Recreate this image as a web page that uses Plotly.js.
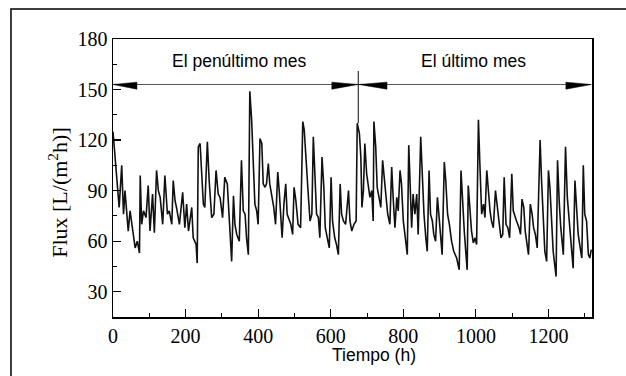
<!DOCTYPE html>
<html>
<head>
<meta charset="utf-8">
<script src="https://cdn.plot.ly/plotly-3.0.1.min.js"></script>
<style>html,body{margin:0;padding:0;background:#fff;}#chart{width:626px;height:376px;}</style>
</head>
<body>
<div id="chart"></div>
<script>
// Time (h) and flux values
const tiempo = [0,6,11,17,24,29,33,42,47,52,61,67,73,75,79,84,91,97,102,109,114,120,125,130,137,143,150,155,162,166,171,175,183,192,198,203,208,217,221,229,232,235,240,244,249,253,260,265,272,278,284,290,295,302,308,315,320,327,
332,336,341,348,354,359,364,368,373,377,382,387,391,396,400,405,410,414,419,423,428,432,437,443,448,454,458,463,466,471,476,480,486,490,495,499,504,510,517,523,527,532,538,543,548,552,557,561,566,570,576,581,585,591,596,601,605,611,616,621,626,630,635,641,649,653,658,
664,670,673,679,683,686,690,694,699,704,708,713,717,719,724,728,734,738,743,748,752,757,763,768,772,777,782,786,791,795,800,805,811,815,819,823,827,832,837,841,848,852,857,862,866,871,875,880,884,889,894,898,903,907,913,917,922,927,933,939,947,954,959,963,968,972,976,979,984,988,993,998,1002,
1007,1011,1016,1021,1025,1030,1034,1039,1043,1048,1054,1059,1064,1069,1074,1078,1083,1088,1093,1099,1103,1108,1112,1119,1123,1127,1132,1136,1141,1145,1150,1155,1159,1164,1169,1177,1181,1186,1190,1195,1200,1204,1209,1213,1221,1225,1230,1234,1241,1247,1252,1256,1262,1268,1273,1278,1282,1289,1292,1296,1300,1305,1310,1314,1318];
const flux = [125,110,96,80,105,76,90,66,78,70,56,60,53,99,70,78,74,93,66,88,65,102,90,86,70,99,76,78,70,96,84,80,70,89,68,82,66,80,62,58,47,116,118,102,82,80,119,96,74,76,102,88,86,74,98,94,72,48,
87,70,64,60,108,78,76,62,52,149,132,106,82,78,70,121,118,94,92,94,106,94,88,80,70,101,90,70,62,82,94,76,72,70,64,92,84,70,68,131,126,106,88,72,76,122,96,76,74,62,110,92,68,60,56,98,72,62,58,52,94,76,72,70,90,72,66,
70,72,130,124,110,80,90,118,100,92,86,90,72,131,116,92,84,80,108,96,88,76,70,104,86,68,86,78,102,94,72,64,52,117,90,68,88,76,88,64,122,96,76,62,54,102,76,72,64,60,86,76,62,52,107,96,76,70,60,54,50,43,102,82,66,54,43,93,76,66,59,62,58,
132,106,76,82,74,102,90,78,72,68,90,80,68,62,64,98,70,68,62,100,78,74,72,68,64,85,80,66,58,52,82,76,68,64,56,120,96,70,54,48,102,92,70,54,39,108,82,68,52,116,86,74,60,44,96,80,64,54,50,105,76,72,52,50,55];

const xTicks = [0,200,400,600,800,1000,1200];
const yTicks = [30,60,90,120,150,180];
const periodos = ["El penúltimo mes", "El último mes"];

const trace = {
  x: tiempo, y: flux, type: 'scatter', mode: 'lines',
  line: {color: '#111', width: 1.6}, hoverinfo: 'skip'
};

const ax = {
  showline: true, mirror: true, linecolor: '#000', linewidth: 1.5,
  showgrid: false, zeroline: false, ticks: 'inside', ticklen: 8, tickwidth: 1.2, tickcolor: '#000',
  tickfont: {family: 'Liberation Serif', size: 20, color: '#000'}
};

const arrowY = 153;
const layout = {
  width: 626, height: 376,
  margin: {l: 113, r: 34, t: 39, b: 59},
  paper_bgcolor: '#fff', plot_bgcolor: '#fff',
  showlegend: false,
  xaxis: Object.assign({}, ax, {
    range: [0, 1320], tickmode: 'array', tickvals: xTicks, ticktext: xTicks.map(String),
    minor: {dtick: 100, tick0: 0, ticks: 'inside', ticklen: 4, tickcolor: '#000', tickwidth: 1}
  }),
  yaxis: Object.assign({}, ax, {
    range: [15, 180], tickmode: 'array', tickvals: yTicks, ticktext: yTicks.map(String),
    minor: {dtick: 15, tick0: 0, ticks: 'inside', ticklen: 4, tickcolor: '#000', tickwidth: 1}
  }),
  shapes: [
    // outer frame
    {type: 'rect', xref: 'paper', yref: 'paper', x0: -0.213, x1: 1.2, y0: -0.3, y1: 1.108,
     line: {color: '#000', width: 1.5}, fillcolor: 'rgba(0,0,0,0)', layer: 'below'},
    // horizontal period line
    {type: 'line', xref: 'x', yref: 'y', x0: 0, x1: 1316, y0: arrowY, y1: arrowY, line: {color: '#555', width: 1}},
    // separator
    {type: 'line', xref: 'x', yref: 'y', x0: 676, x1: 676, y0: 130, y1: 161, line: {color: '#333', width: 1.2}},
    // arrow heads
    {type: 'path', xref: 'x', yref: 'y', path: `M 0,${arrowY} L 66,${arrowY+1.4} L 66,${arrowY-2.8} Z`, fillcolor: '#000', line: {color: '#000', width: 0.5}},
    {type: 'path', xref: 'x', yref: 'y', path: `M 675,${arrowY} L 603,${arrowY+1.4} L 603,${arrowY-2.8} Z`, fillcolor: '#000', line: {color: '#000', width: 0.5}},
    {type: 'path', xref: 'x', yref: 'y', path: `M 677,${arrowY} L 755,${arrowY+1.4} L 755,${arrowY-2.8} Z`, fillcolor: '#000', line: {color: '#000', width: 0.5}},
    {type: 'path', xref: 'x', yref: 'y', path: `M 1318,${arrowY} L 1248,${arrowY+1.4} L 1248,${arrowY-2.8} Z`, fillcolor: '#000', line: {color: '#000', width: 0.5}}
  ],
  annotations: [
    {x: 347, y: 167, xref: 'x', yref: 'y', text: periodos[0], showarrow: false, xanchor: 'center', yanchor: 'middle',
     font: {family: 'Liberation Sans', size: 17.5, color: '#000'}},
    {x: 993, y: 167, xref: 'x', yref: 'y', text: periodos[1], showarrow: false, xanchor: 'center', yanchor: 'middle',
     font: {family: 'Liberation Sans', size: 17.5, color: '#000'}},
    {x: 0.545, y: -0.137, xref: 'paper', yref: 'paper', text: 'Tiempo (h)', showarrow: false, xanchor: 'center', yanchor: 'middle',
     font: {family: 'Liberation Sans', size: 17.5, color: '#000'}},
    {x: -0.115, y: 0.45, xref: 'paper', yref: 'paper', text: 'Flux [L/(m<sup>2</sup>h)]', textangle: -90, showarrow: false,
     xanchor: 'center', yanchor: 'middle',
     font: {family: 'Liberation Serif', size: 22, color: '#000'}}
  ]
};

Plotly.newPlot('chart', [trace], layout, {displayModeBar: false, staticPlot: true});
</script>
</body>
</html>
